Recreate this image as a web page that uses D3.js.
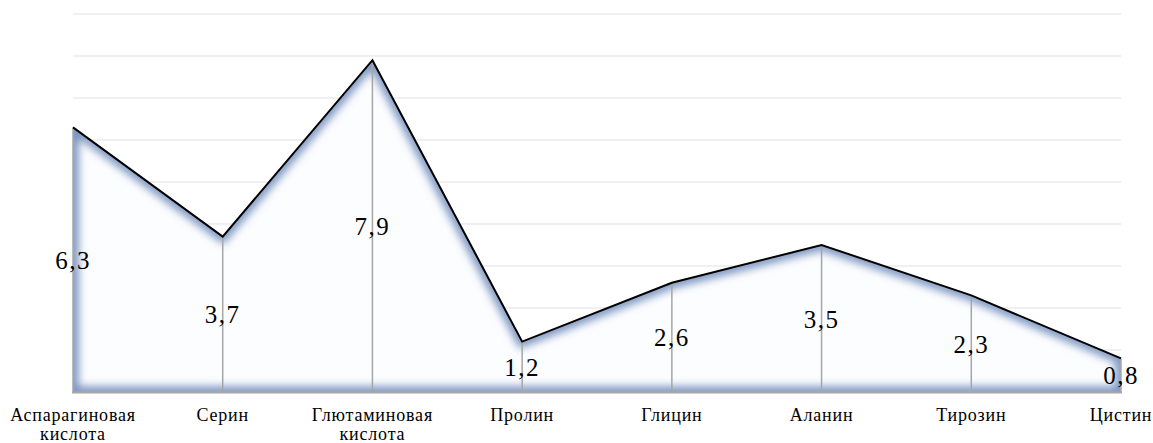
<!DOCTYPE html>
<html>
<head>
<meta charset="utf-8">
<script src="https://cdn.jsdelivr.net/npm/d3@7"></script>
<style>
  body { margin: 0; background: #fff; }
  svg { display: block; }
</style>
</head>
<body>
<script>
var categories = ["Аспарагиновая кислота", "Серин", "Глютаминовая кислота", "Пролин", "Глицин", "Аланин", "Тирозин", "Цистин"];
var values = [6.3, 3.7, 7.9, 1.2, 2.6, 3.5, 2.3, 0.8];
var labels = ["6,3", "3,7", "7,9", "1,2", "2,6", "3,5", "2,3", "0,8"];
var yTicks = [0, 1, 2, 3, 4, 5, 6, 7, 8, 9];

var w = 1153, h = 443;
var font = "Liberation Serif";
var data = categories.map(function(c, i) { return {cat: c, v: values[i], lab: labels[i]}; });

var svg = d3.select("body").append("svg").attr("width", w).attr("height", h);

var x = d3.scalePoint().domain(categories).range([73, 1121]);
var y = d3.scaleLinear().domain([0, 9]).range([392, 14]);

var area = d3.area()
  .x(function(d) { return x(d.cat); })
  .y0(y(0))
  .y1(function(d) { return y(d.v); });

var defs = svg.append("defs");
defs.append("clipPath").attr("id", "areaClip")
  .append("path").datum(data).attr("d", area);
defs.append("filter").attr("id", "blur")
  .attr("x", "-10%").attr("y", "-20%").attr("width", "120%").attr("height", "140%")
  .append("feGaussianBlur").attr("stdDeviation", 4);

// gridlines
svg.append("g").selectAll("line").data(yTicks.slice(1)).enter().append("line")
  .attr("x1", 73).attr("x2", 1121)
  .attr("y1", function(d) { return y(d); })
  .attr("y2", function(d) { return y(d); })
  .attr("stroke", "#ebebeb").attr("stroke-width", 1.5);

// area with inner glow: white fill, blurred blue outline clipped to the shape
var ga = svg.append("g").attr("clip-path", "url(#areaClip)");
ga.append("path").datum(data).attr("d", area).attr("fill", "#fcfdff");
ga.append("path").datum(data).attr("d", area)
  .attr("fill", "none")
  .attr("stroke", "#7893bf")
  .attr("stroke-width", 11)
  .attr("stroke-linejoin", "miter")
  .attr("filter", "url(#blur)");

// drop lines
svg.append("g").selectAll("line").data(data).enter().append("line")
  .attr("x1", function(d) { return x(d.cat); })
  .attr("x2", function(d) { return x(d.cat); })
  .attr("y1", function(d) { return y(d.v); })
  .attr("y2", y(0))
  .attr("stroke", "#a6a6a6").attr("stroke-width", 1.5);

// baseline
svg.append("line")
  .attr("x1", 72).attr("x2", 1122)
  .attr("y1", y(0) + 0.5).attr("y2", y(0) + 0.5)
  .attr("stroke", "#a6a6a6").attr("stroke-width", 2);

var line = d3.line()
  .x(function(d) { return x(d.cat); })
  .y(function(d) { return y(d.v); });

svg.append("path").datum(data)
  .attr("d", line)
  .attr("fill", "none")
  .attr("stroke", "#000")
  .attr("stroke-width", 2)
  .attr("stroke-linejoin", "miter");

// data labels
svg.append("g").selectAll("text").data(data).enter().append("text")
  .text(function(d) { return d.lab; })
  .attr("x", function(d) { return x(d.cat); })
  .attr("y", function(d) { return y(d.v / 2) + 9; })
  .attr("text-anchor", "middle")
  .attr("font-family", font)
  .attr("font-size", 25)
  .attr("letter-spacing", 1.5)
  .attr("fill", "#000");

// category labels
var cl = svg.append("g").selectAll("text").data(data).enter().append("text")
  .attr("x", function(d) { return x(d.cat); })
  .attr("y", 421)
  .attr("text-anchor", "middle")
  .attr("font-family", font)
  .attr("font-size", 18)
  .attr("letter-spacing", 0.8)
  .attr("fill", "#000");

cl.each(function(d) {
  var parts = d.cat.split(" ");
  var t = d3.select(this);
  parts.forEach(function(p, i) {
    t.append("tspan").attr("x", x(d.cat)).attr("dy", i === 0 ? 0 : 19).text(p);
  });
});
</script>
</body>
</html>
